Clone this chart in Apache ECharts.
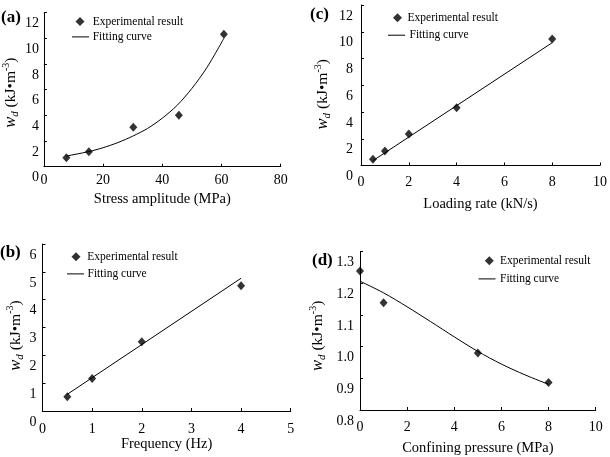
<!DOCTYPE html>
<html>
<head>
<meta charset="utf-8">
<script src="https://cdn.jsdelivr.net/npm/echarts@6/dist/echarts.min.js"></script>
<style>
html,body{margin:0;padding:0;background:#fff;}
#chart{width:610px;height:457px;}
</style>
</head>
<body>
<div id="chart"></div>
<script>
// ---- Data ----
// (a) Stress amplitude
const aStress = [7.6, 15.2, 30.2, 45.6, 60.8];
const aWd = [0.70, 1.17, 3.07, 4.00, 10.32];
const aFitX = [7.6, 15.2, 20, 25, 30, 35, 40, 45, 50, 55, 60.8];
const aFitY = [0.83, 1.18, 1.48, 1.88, 2.38, 2.98, 3.78, 4.78, 6.10, 7.70, 10.0];
// (b) Frequency
const bFreq = [0.5, 1, 2, 4];
const bWd = [0.51, 1.17, 2.49, 4.50];
const bFitX = [0.5, 4];
const bFitY = [0.60, 4.77];
// (c) Loading rate
const cRate = [0.5, 1, 2, 4, 8];
const cWd = [0.46, 1.08, 2.36, 4.32, 9.46];
const cFitX = [0.5, 8];
const cFitY = [0.36, 9.18];
// (d) Confining pressure
const dPress = [0, 1, 5, 8];
const dWd = [1.239, 1.139, 0.980, 0.887];
const dFitX = [0, 1, 2, 3, 4, 5, 6, 7, 8];
const dFitY = [1.207, 1.170, 1.126, 1.079, 1.031, 0.985, 0.945, 0.911, 0.881];

const panelLabels = ['(a)', '(b)', '(c)', '(d)'];
const xNames = ['Stress amplitude (MPa)', 'Frequency (Hz)', 'Loading rate (kN/s)', 'Confining pressure (MPa)'];
const yName = '{i|w}{sub|d}{n| (kJ\u2022m}{sup|-3}{n|)}';
const legendNames = ['Experimental result', 'Fitting curve'];

const FONT = '"Liberation Serif", "Times New Roman", serif';

function pairs(xs, ys) { return xs.map((x, i) => [x, ys[i]]); }

const grids = [
  {left: 43, top: 12.7, width: 237.7, height: 154},
  {left: 42.5, top: 244, width: 248.2, height: 167},
  {left: 361, top: 5, width: 241.5, height: 160.5},
  {left: 360, top: 251.7, width: 235.7, height: 158.3}
];

const xCfg = [
  {min: 0, max: 80, interval: 20, margin: 7},
  {min: 0, max: 5, interval: 1, margin: 11},
  {min: 0, max: 10, interval: 2, margin: 10},
  {min: 0, max: 10, interval: 2, margin: 10}
];
const xNameGap = [25, 21, 31, 31];

const yCfg = [
  {min: 0, max: 12, interval: 2, margin: 5, fmt: v => String(v)},
  {min: 0, max: 6, interval: 1, margin: 6, fmt: v => String(v)},
  {min: 0, max: 12, interval: 2, margin: 8, fmt: v => String(v)},
  {min: 0.8, max: 1.3, interval: 0.1, margin: 6, fmt: v => v.toFixed(1)}
];
const yNameGap = [19, 17, 28, 32];
const yNamePad = [6, 16, 18, 10];

const axisLine = {show: true, lineStyle: {color: '#000', width: 1}};

const xAxis = xCfg.map((c, i) => ({
  type: 'value', gridIndex: i, min: c.min, max: c.max, interval: c.interval,
  name: xNames[i], nameLocation: 'middle', nameGap: xNameGap[i],
  nameTextStyle: {fontFamily: FONT, fontSize: 14.5, color: '#000'},
  axisLine: axisLine,
  axisTick: {show: true, inside: true, length: 3, lineStyle: {color: '#000'}},
  axisLabel: {fontFamily: FONT, fontSize: 14, color: '#000', margin: c.margin},
  splitLine: {show: false}
}));

const yAxis = yCfg.map((c, i) => ({
  type: 'value', gridIndex: i, min: c.min, max: c.max, interval: c.interval,
  name: yName, nameLocation: 'middle', nameGap: yNameGap[i], nameRotate: 90,
  nameTextStyle: {
    fontFamily: FONT, fontSize: 15.5, color: '#000', lineHeight: 20,
    padding: [0, yNamePad[i], 0, 0],
    rich: {
      n: {fontFamily: FONT, fontSize: 15.5, color: '#000', lineHeight: 20},
      i: {fontFamily: FONT, fontStyle: 'italic', fontSize: 16.5, color: '#000', lineHeight: 20},
      sub: {fontFamily: FONT, fontStyle: 'italic', fontSize: 11, color: '#000', verticalAlign: 'bottom', lineHeight: 13},
      sup: {fontFamily: FONT, fontSize: 10, color: '#000', verticalAlign: 'top', lineHeight: 10}
    }
  },
  axisLine: axisLine,
  axisTick: {show: true, inside: true, length: 3, lineStyle: {color: '#000'}},
  axisLabel: {fontFamily: FONT, fontSize: 14, color: '#000', margin: c.margin,
    verticalAlign: 'top', padding: [4, 0, 0, 0], formatter: c.fmt},
  splitLine: {show: false}
}));

const scatterSets = [pairs(aStress, aWd), pairs(bFreq, bWd), pairs(cRate, cWd), pairs(dPress, dWd)];
const fitSets = [pairs(aFitX, aFitY), pairs(bFitX, bFitY), pairs(cFitX, cFitY), pairs(dFitX, dFitY)];

const series = [];
for (let i = 0; i < 4; i++) {
  series.push({
    name: legendNames[1], type: 'line', xAxisIndex: i, yAxisIndex: i,
    data: fitSets[i], smooth: i === 0 || i === 3 ? 0.3 : false, symbol: 'none',
    lineStyle: {color: '#000', width: 1}, itemStyle: {color: '#000'},
    silent: true, animation: false, clip: false
  });
  series.push({
    name: legendNames[0], type: 'scatter', xAxisIndex: i, yAxisIndex: i,
    data: scatterSets[i], symbol: 'diamond', symbolSize: [8, 9],
    itemStyle: {color: '#000'}, silent: true, animation: false, clip: false
  });
}

// legend placement per panel: diamond item + line item
const legendDiamond = [
  {left: 75.5, top: 15.5, pad: 3.2},
  {left: 71.5, top: 250.7, pad: 1.8},
  {left: 393, top: 11.7, pad: 0.5},
  {left: 484.8, top: 254.8, pad: 1.2}
];
const legendLine = [
  {left: 72, top: 30.9, pad: -1.3},
  {left: 67, top: 267.9, pad: -1.5},
  {left: 388, top: 29.2, pad: -0.5},
  {left: 478.5, top: 272.9, pad: -0.5}
];
const legend = [];
legendDiamond.forEach(p => legend.push({
  left: p.left, top: p.top, orient: 'vertical', padding: 0,
  itemWidth: 9, itemHeight: 9, selectedMode: false,
  data: [{name: legendNames[0], icon: 'diamond'}],
  itemStyle: {color: '#000'},
  textStyle: {fontFamily: FONT, fontSize: 11.5, color: '#000', padding: [0, 0, 0, p.pad]}
}));
legendLine.forEach(p => legend.push({
  left: p.left, top: p.top, orient: 'vertical', padding: 0,
  itemWidth: 17, itemHeight: 1, selectedMode: false,
  data: [{name: legendNames[1], icon: 'rect'}],
  itemStyle: {color: '#000'},
  textStyle: {fontFamily: FONT, fontSize: 11.5, color: '#000', padding: [0, 0, 0, p.pad]}
}));

const titlePos = [
  {left: 1, top: 9}, {left: 0, top: 244}, {left: 310, top: 6}, {left: 312, top: 252}
];
const title = titlePos.map((p, i) => ({
  text: panelLabels[i], left: p.left, top: p.top, padding: 0,
  textStyle: {fontFamily: FONT, fontSize: 17, fontWeight: 'bold', color: '#000'}
}));

const chart = echarts.init(document.getElementById('chart'), null, {renderer: 'canvas'});
chart.setOption({
  backgroundColor: '#fff',
  animation: false,
  title: title,
  legend: legend,
  grid: grids,
  xAxis: xAxis,
  yAxis: yAxis,
  series: series
});
</script>
</body>
</html>
